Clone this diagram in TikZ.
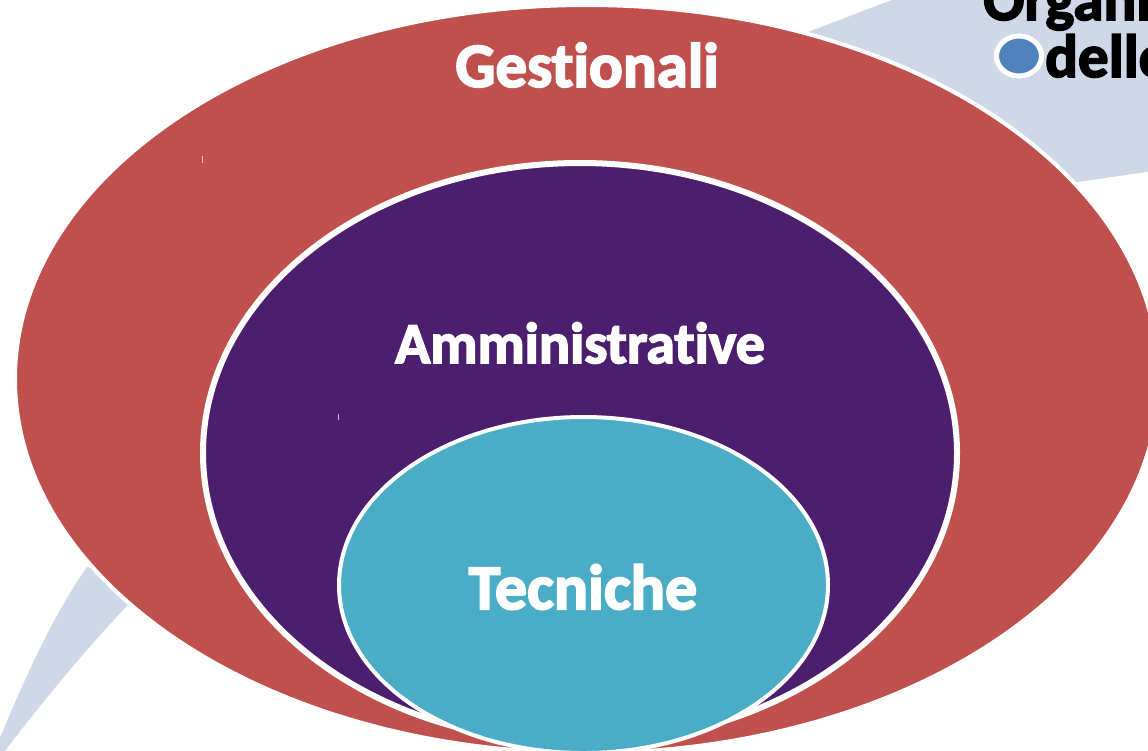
\documentclass[tikz,border=0pt]{standalone}
\usepackage{fontspec}
\setmainfont{Carlito}
\newfontfamily\heavy[Ligatures=NoCommon,BoldFeatures={FakeBold=2.8}]{Carlito}
\definecolor{cred}{HTML}{C0504D}
\definecolor{cpurple}{HTML}{4C1F6E}
\definecolor{cteal}{HTML}{4BACC6}
\definecolor{cgrey}{HTML}{D0D8E8}
\definecolor{cblue}{HTML}{4F81BD}
\tikzset{
  lbl/.style={text=white,font=\heavy\bfseries,inner sep=0pt},
  blk/.style={text=black,font=\heavy\fontsize{61}{66}\selectfont\bfseries,inner sep=0pt,anchor=base west},
}
\begin{document}
\begin{tikzpicture}[x=1pt,y=-1pt]
\useasboundingbox (0,0) rectangle (1148,750);
\clip (0,0) rectangle (1148,750);
% grey swoosh (background)
\fill[cgrey] (808,32) -- (905,-5) -- (1160,-5) -- (1160,170) -- (1078,182) -- (950,150) -- cycle;
\fill[cgrey] (87,567) .. controls (50,620) and (22,685) .. (-3,745) -- (-3,762) -- (4,752)
  .. controls (40,705) and (85,650) .. (127,606) -- (150,580) -- cycle;
% ellipses
\node[inner sep=0pt] (outer) at (587,379) {};
\fill[cred] (outer) ellipse [x radius=572, y radius=374];
\draw[white,line width=4] (outer) ellipse [x radius=572, y radius=374];
\node[inner sep=0pt] (mid) at (580,453) {};
\fill[cpurple] (mid) ellipse [x radius=377, y radius=290];
\draw[white,line width=6] (mid) ellipse [x radius=377, y radius=290];
\node[inner sep=0pt] (inner) at (583.5,585) {};
\fill[cteal] (inner) ellipse [x radius=244.5, y radius=168];
\draw[white,line width=4] (inner) ellipse [x radius=244.5, y radius=168];
% tiny marks
\draw[white!80!cred,line width=1] (202,156) -- (202,163);
\draw[white!70!cpurple,line width=1] (338,414) -- (338,420);
% labels
\node[lbl,font=\heavy\fontsize{63}{68}\selectfont\bfseries] (g) at (587,65) {Gestionali};
\node[lbl,font=\heavy\fontsize{58}{64}\selectfont\bfseries] (a) at (580,343) {Amministrative};
\node[lbl,font=\heavy\fontsize{64}{70}\selectfont\bfseries] (t) at (583,587) {Tecniche};
% cut-off title top right
\node[blk] (o) at (983,20) {Organi};
\node[blk] (d) at (1045,77) {dello};
\node[inner sep=0pt] (b) at (1019,56) {};
\fill[cblue] (b) ellipse [x radius=22.5, y radius=20];
\draw[white,line width=5] (b) ellipse [x radius=22.5, y radius=20];
\end{tikzpicture}
\end{document}
